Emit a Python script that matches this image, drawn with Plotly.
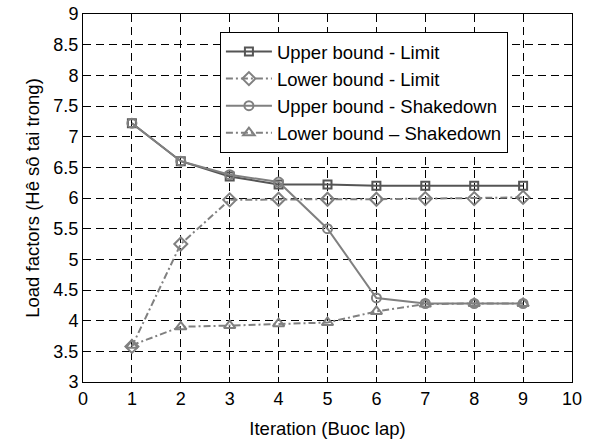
import plotly.graph_objects as go

iterations = [1, 2, 3, 4, 5, 6, 7, 8, 9]
upper_limit = [7.22, 6.60, 6.35, 6.22, 6.22, 6.20, 6.20, 6.20, 6.20]
lower_limit = [3.58, 5.25, 5.97, 5.98, 5.98, 5.98, 5.99, 5.99, 6.01]
upper_shake = [7.22, 6.60, 6.38, 6.26, 5.50, 4.37, 4.28, 4.28, 4.28]
lower_shake = [3.60, 3.90, 3.92, 3.95, 3.97, 4.15, 4.27, 4.28, 4.28]
names = ["Upper bound - Limit", "Lower bound - Limit",
         "Upper bound - Shakedown", "Lower bound \u2013 Shakedown"]

x_ticks = list(range(0, 11))
y_ticks = [3, 3.5, 4, 4.5, 5, 5.5, 6, 6.5, 7, 7.5, 8, 8.5, 9]
y_labels = ["3", "3.5", "4", "4.5", "5", "5.5", "6", "6.5", "7", "7.5", "8", "8.5", "9"]

fig = go.Figure()
styles = [
    (upper_limit, "#555555", "solid", "square-open", 8),
    (lower_limit, "#808080", "7px,3px,2px,3px", "diamond-open", 10),
    (upper_shake, "#808080", "solid", "circle-open", 9),
    (lower_shake, "#808080", "7px,3px,2px,3px", "triangle-up-open", 10),
]
for (vals, col, dash, sym, sz), nm in zip(styles, names):
    fig.add_trace(go.Scatter(
        x=iterations, y=vals, name=nm, mode="lines+markers",
        line=dict(color=col, width=2, dash=dash),
        marker=dict(symbol=sym, size=sz, color=col, line=dict(width=2, color=col)),
    ))

axis_common = dict(
    showline=True, linecolor="black", linewidth=1, mirror="ticks",
    ticks="inside", ticklen=5, tickcolor="black",
    showgrid=True, gridcolor="black", griddash="8px,5px", gridwidth=1,
    zeroline=False, tickfont=dict(size=18, color="black"), automargin=False,
)
fig.update_xaxes(range=[0, 10], tickvals=x_ticks,
                 title=dict(text="Iteration (Buoc lap)", font=dict(size=18.5, color="black"), standoff=14),
                 **axis_common)
fig.update_yaxes(range=[3, 9], tickvals=y_ticks, ticktext=y_labels,
                 title=dict(text="Load factors (Hê sô tai trong)", font=dict(size=18.5, color="black"), standoff=8),
                 **axis_common)

fig.update_layout(
    width=594, height=443,
    margin=dict(l=83, r=22, t=14, b=61, autoexpand=False),
    paper_bgcolor="white", plot_bgcolor="white",
    font=dict(family="Liberation Sans, Arial, sans-serif", size=18, color="black"),
    legend=dict(x=0.280, y=0.951, xanchor="left", yanchor="top",
                bgcolor="white", bordercolor="black", borderwidth=1,
                font=dict(size=18.5), tracegroupgap=0, itemwidth=46),
    showlegend=True,
)

fig.write_html("out.html")
